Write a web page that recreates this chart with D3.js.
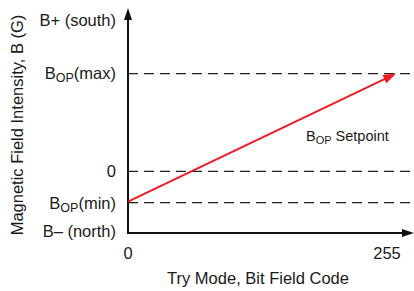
<!DOCTYPE html>
<html>
<head>
<meta charset="utf-8">
<script src="https://cdn.jsdelivr.net/npm/d3@7"></script>
<style>
  body { margin: 0; background: #fff; }
  text { font-family: "Liberation Sans", Arial, sans-serif; fill: #1a1a1a; }
</style>
</head>
<body>
<script>
// data (y in arbitrary gauss units, 0 = zero field)
const yLevelValues = [155, 100, 0, -32, -61];
const yLevelMain = ["B+ (south)", "B", "0", "B", "B\u2013 (north)"];
const yLevelSub = ["", "OP", "", "OP", ""];
const yLevelTail = ["", "(max)", "", "(min)", ""];
const dashedLevels = [100, 0, -32];
const xTickValues = [0, 255];
const setpointX = [0, 264];
const setpointY = [-31, 100];

const width = 414, height = 291;
const svg = d3.select("body").append("svg")
  .attr("width", width)
  .attr("height", height);

const x = d3.scaleLinear().domain([0, 255]).range([128, 387]);
const y = d3.scaleLinear().domain([-63, 167]).range([233, 8]);

// dashed reference lines
dashedLevels.forEach(v => {
  svg.append("line")
    .attr("x1", x(0)).attr("x2", width)
    .attr("y1", y(v)).attr("y2", y(v))
    .attr("stroke", "#222")
    .attr("stroke-width", 1.2)
    .attr("stroke-dasharray", "10,6");
});

// axes with arrows
svg.append("line")
  .attr("x1", x(0)).attr("x2", x(0))
  .attr("y1", y.range()[0] + 1).attr("y2", y.range()[1] + 6)
  .attr("stroke", "#111").attr("stroke-width", 2);
svg.append("path")
  .attr("d", `M${x(0)},${y.range()[1]} l-4,12 l8,0 z`)
  .attr("fill", "#111");
svg.append("line")
  .attr("x1", x(0) - 1).attr("x2", width - 6)
  .attr("y1", y.range()[0]).attr("y2", y.range()[0])
  .attr("stroke", "#111").attr("stroke-width", 2);
svg.append("path")
  .attr("d", `M${width},${y.range()[0]} l-12,-4 l0,8 z`)
  .attr("fill", "#111");

// setpoint line
const x1 = x(setpointX[0]), y1 = y(setpointY[0]);
const x2 = x(setpointX[1]), y2 = y(setpointY[1]);
const ang = Math.atan2(y2 - y1, x2 - x1);
svg.append("line")
  .attr("x1", x1).attr("y1", y1)
  .attr("x2", x2 - 10 * Math.cos(ang)).attr("y2", y2 - 10 * Math.sin(ang))
  .attr("stroke", "#ec1c24").attr("stroke-width", 2);
svg.append("path")
  .attr("d", "M0,0 L-13,-4.5 L-13,4.5 Z")
  .attr("transform", `translate(${x2},${y2}) rotate(${ang * 180 / Math.PI})`)
  .attr("fill", "#ec1c24");

// y level labels
yLevelValues.forEach((v, i) => {
  let t = svg.append("text")
    .attr("x", 116)
    .attr("y", y(v))
    .attr("dy", "0.36em")
    .attr("text-anchor", "end")
    .style("font-size", "16.5px");
  t.append("tspan").text(yLevelMain[i]);
  if (yLevelSub[i]) {
    t.append("tspan").attr("dy", "3").style("font-size", "12.5px").text(yLevelSub[i]);
    t.append("tspan").attr("dy", "-3").text(yLevelTail[i]);
  }
});

// x tick labels
svg.selectAll(".xtick")
  .data(xTickValues)
  .join("text")
  .attr("class", "xtick")
  .attr("x", d => x(d))
  .attr("y", 259)
  .attr("text-anchor", "middle")
  .style("font-size", "16.5px")
  .text(d => d);

// titles
svg.append("text")
  .attr("x", 258).attr("y", 284)
  .attr("text-anchor", "middle")
  .style("font-size", "16.5px")
  .text("Try Mode, Bit Field Code");

svg.append("text")
  .attr("transform", "translate(23,125) rotate(-90)")
  .attr("text-anchor", "middle")
  .style("font-size", "16.5px")
  .text("Magnetic Field Intensity, B (G)");

let sp = svg.append("text")
  .attr("x", 306).attr("y", 141)
  .style("font-size", "14.5px");
sp.append("tspan").text("B");
sp.append("tspan").attr("dy", "3").style("font-size", "11px").text("OP");
sp.append("tspan").attr("dy", "-3").text(" Setpoint");
</script>
</body>
</html>
